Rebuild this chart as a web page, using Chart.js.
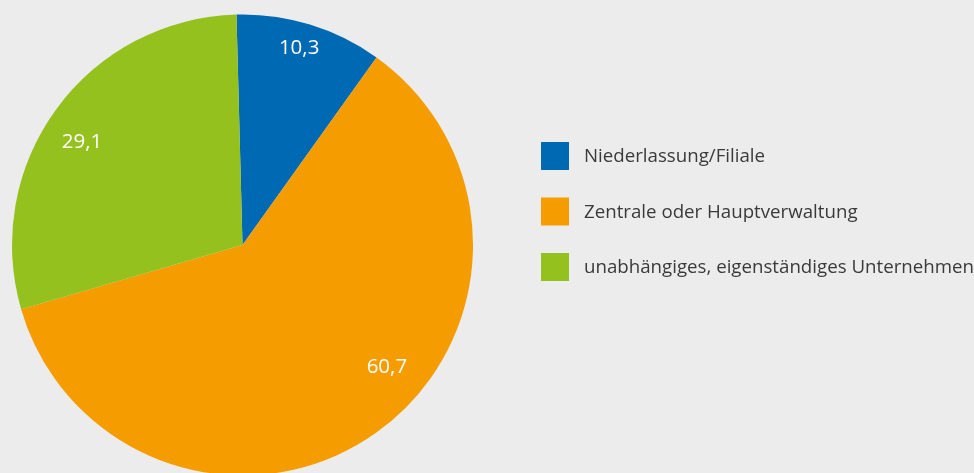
<!DOCTYPE html>
<html>
<head>
<meta charset="utf-8">
<script src="https://cdn.jsdelivr.net/npm/chart.js@4/dist/chart.umd.min.js"></script>
<style>
  html, body { margin: 0; padding: 0; background: #ececec; overflow: hidden; }
  #wrap { position: absolute; left: 0; top: 0; width: 974px; height: 490px; }
</style>
</head>
<body>
<div id="wrap"><canvas id="pie_chart"></canvas></div>
<script>
const categories = ['Niederlassung/Filiale', 'Zentrale oder Hauptverwaltung', 'unabhängiges, eigenständiges Unternehmen'];
const shares = [10.3, 60.7, 29.1];
const share_labels = ['10,3', '60,7', '29,1'];
const slice_colors = ['#0069b4', '#f59c00', '#95c11f'];

// where each value label sits: shift from the slice middle (deg) and radius fraction
const label_place = [
    { shift: -1, r: 0.89 },
    { shift: -14.5, r: 0.82 },
    { shift: -3.6, r: 0.826 }
];

const valueLabels = {
    id: 'valueLabels',
    afterDatasetsDraw(chart) {
        const ctx = chart.ctx;
        const arcs = chart.getDatasetMeta(0).data;
        ctx.save();
        ctx.fillStyle = '#ffffff';
        ctx.font = '20.5px "Open Sans"';
        ctx.textAlign = 'center';
        ctx.textBaseline = 'middle';
        arcs.forEach((arc, i) => {
            const p = label_place[i];
            const mid = (arc.startAngle + arc.endAngle) / 2 + p.shift * Math.PI / 180;
            const r = arc.outerRadius * p.r;
            ctx.fillText(share_labels[i], arc.x + Math.cos(mid) * r, arc.y + Math.sin(mid) * r);
        });
        ctx.restore();
    }
};

const sideLegend = {
    id: 'sideLegend',
    afterDraw(chart) {
        const ctx = chart.ctx;
        const left = 541, top = 142, box = 28, step = 55.5;
        ctx.save();
        ctx.font = '18.7px "Open Sans"';
        ctx.textBaseline = 'middle';
        ctx.textAlign = 'left';
        chart.data.labels.forEach((label, i) => {
            const y = top + i * step;
            ctx.fillStyle = chart.data.datasets[0].backgroundColor[i];
            ctx.fillRect(left, y, box, box);
            ctx.fillStyle = '#3a3a3a';
            ctx.fillText(label, left + 43, y + box / 2 + 1);
        });
        ctx.restore();
    }
};

var ctx = document.getElementById('pie_chart').getContext('2d');
var chart = new Chart(ctx, {
    type: 'pie',
    data: {
        labels: categories,
        datasets: [{
            data: shares,
            backgroundColor: slice_colors,
            borderWidth: 0
        }]
    },
    options: {
        responsive: true,
        maintainAspectRatio: false,
        animation: false,
        rotation: -1.5,
        layout: { padding: { left: 12, right: 501, top: 14, bottom: 14 } },
        plugins: {
            legend: { display: false },
            tooltip: { enabled: false }
        }
    },
    plugins: [valueLabels, sideLegend]
});
</script>
</body>
</html>
